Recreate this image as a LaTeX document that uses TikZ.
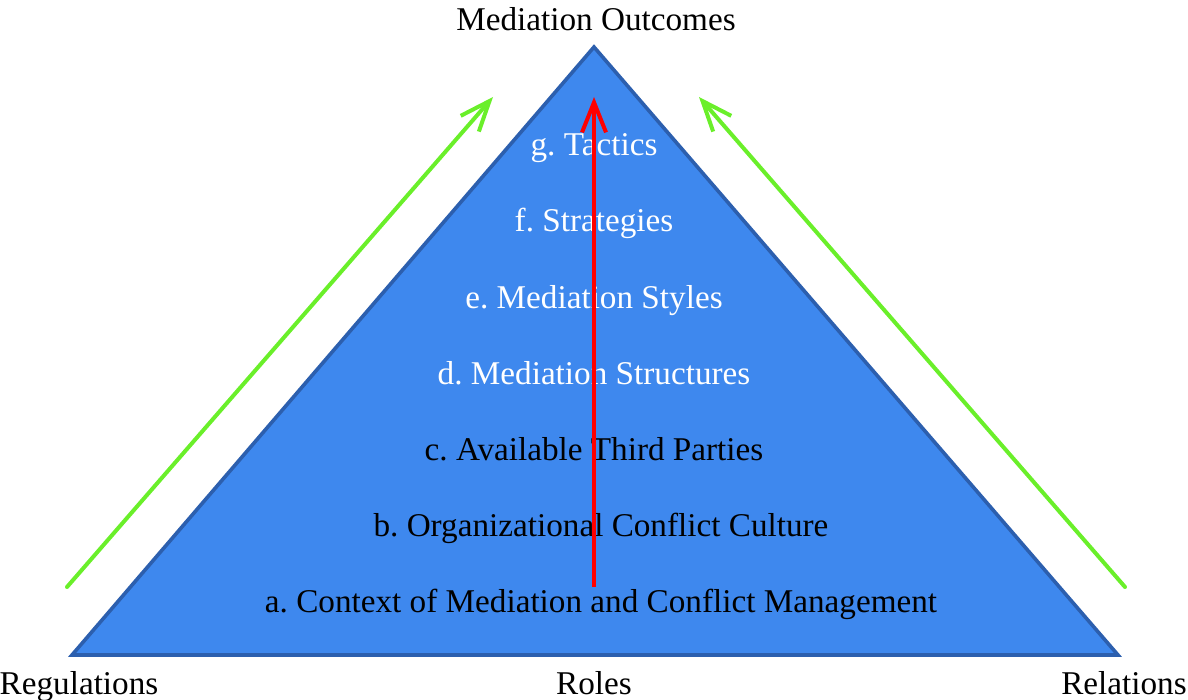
\documentclass[tikz,border=0pt]{standalone}
\usepackage{fontspec}
\setmainfont{Liberation Serif}
\usepackage{tikz}
\usetikzlibrary{positioning,arrows.meta}

\definecolor{pyrfill}{RGB}{62,136,238}
\definecolor{pyrline}{RGB}{44,95,174}
\definecolor{upgreen}{RGB}{106,239,42}

\frenchspacing
\begin{document}
\begin{tikzpicture}[
        x=0.5pt, y=-0.5pt,
        font=\fontsize{16.6}{20}\selectfont,
        pyramid/.style = {draw=pyrline, fill=pyrfill, line width=1.8pt, line join=miter},
        layer/.style = {inner sep=0pt, text=black, text height=13pt, text depth=2pt},
        toplayer/.style = {layer, text=white},
        corner/.style = {inner sep=0pt, text=black, text height=13pt, text depth=2pt},
        line/.style = {line width=2pt, -{Straight Barb[length=15pt, width=12pt, line width=2pt]}}, % open arrow heads
        node distance=38pt and 0pt, on grid
    ]
        \useasboundingbox (0,0) rectangle (1188,700);

        % Pyramid
        \draw [pyramid] (594,47) -- (1118,655) -- (72,655) -- cycle;

        % Layers, from the base upwards
        \node [layer] (context) at (601,601) {a. Context of Mediation and Conflict Management};
        \node [layer, above=of context] (culture) {b. Organizational Conflict Culture};
        \node [layer, above=of culture, xshift=-3.5pt] (parties) {c. Available Third Parties};
        \node [toplayer, above=of parties] (structures) {d. Mediation Structures};
        \node [toplayer, above=of structures] (styles) {e. Mediation Styles};
        \node [toplayer, above=of styles] (strategies) {f. Strategies};
        \node [toplayer, above=of strategies] (tactics) {g. Tactics};

        % Labels round the pyramid
        \node [corner] (outcomes) at (596,20) {Mediation Outcomes};
        \node [corner] (regulations) at (79,683) {Regulations};
        \node [corner] (roles) at (594,683) {Roles};
        \node [corner] (relations) at (1124,683) {Relations};

        % Arrow ends
        \coordinate (redstart) at (594,587);
        \coordinate (redend) at (594,97);
        \coordinate (leftstart) at (67,587);
        \coordinate (leftend) at (493,97);
        \coordinate (rightstart) at (1125,587);
        \coordinate (rightend) at (699,97);

        % Lines
        \draw [line, draw=red] (redstart) -- (redend);
        \draw [line, draw=upgreen, line cap=round] (leftstart) -- (leftend);
        \draw [line, draw=upgreen, line cap=round] (rightstart) -- (rightend);
    \end{tikzpicture}
\end{document}
